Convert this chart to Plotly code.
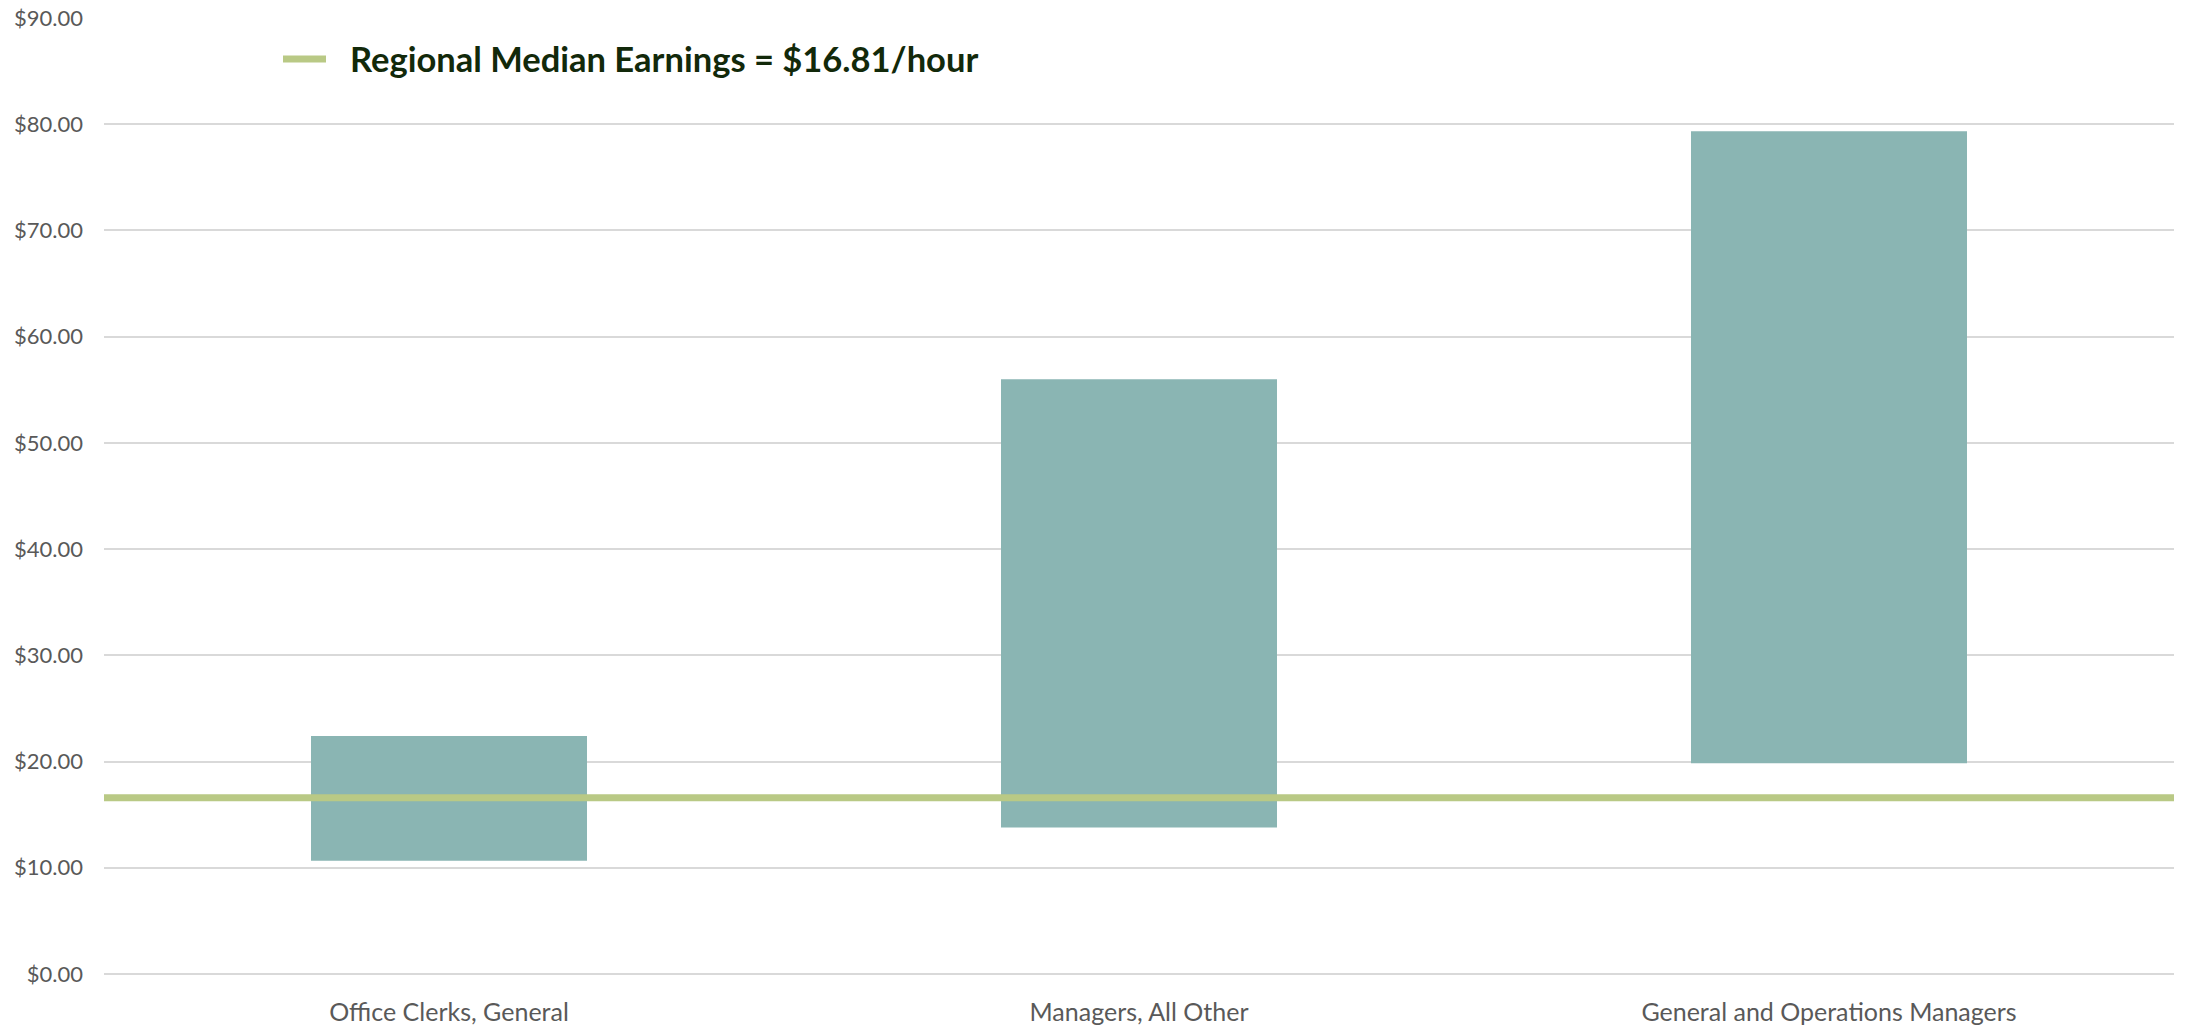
import plotly.graph_objects as go

categories = ["Office Clerks, General", "Managers, All Other", "General and Operations Managers"]
low_wage = [10.65, 13.8, 19.85]
high_wage = [22.4, 56.0, 79.35]
median_line_value = 16.6
median_label = "Regional Median Earnings = $16.81/hour"
tick_vals = [0, 10, 20, 30, 40, 50, 60, 70, 80, 90]
tick_text = ["$%.2f" % v for v in tick_vals]

W, H = 2185, 1026
L, R, T, B = 104, 11, 18, 52
PW = W - L - R
PH = H - T - B

fig = go.Figure()
fig.add_trace(go.Bar(
    x=categories,
    y=[h - l for h, l in zip(high_wage, low_wage)],
    base=low_wage,
    marker=dict(color="#8ab5b3", line=dict(width=0)),
    showlegend=False,
    hoverinfo="skip",
))
fig.add_trace(go.Scatter(
    x=[0, 1], y=[median_line_value, median_line_value],
    xaxis="x2", mode="lines",
    line=dict(color="#b9c985", width=7),
    name=median_label,
    showlegend=False,
))

# legend key drawn manually (symbol + label)
leg_y = 1 - (59 - T) / PH
fig.add_shape(type="line", xref="paper", yref="paper",
              x0=(283 - L) / PW, x1=(326 - L) / PW, y0=leg_y, y1=leg_y,
              line=dict(color="#b9c985", width=7))
fig.add_annotation(xref="paper", yref="paper", x=(348 - L) / PW, y=leg_y,
                   xanchor="left", yanchor="middle", showarrow=False,
                   text="<b>" + median_label + "</b>",
                   font=dict(size=34.5, color="#12290a", family="Lato"))

fig.update_layout(
    width=W, height=H,
    margin=dict(l=L, r=R, t=T, b=B, autoexpand=False),
    plot_bgcolor="white", paper_bgcolor="white",
    bargap=0.6,
    font=dict(family="Lato", color="#595959"),
    xaxis=dict(
        type="category", showgrid=False, showline=False, ticks="",
        tickfont=dict(size=25, color="#595959", family="Lato"),
        range=[-0.5, 2.5], automargin=False, ticklabelstandoff=21,
    ),
    xaxis2=dict(overlaying="x", range=[0, 1], visible=False, fixedrange=True),
    yaxis=dict(
        range=[0, 90], tickvals=tick_vals, ticktext=tick_text,
        showgrid=True, gridcolor="#d9d9d9", gridwidth=2,
        zeroline=True, zerolinecolor="#d9d9d9", zerolinewidth=2,
        showline=False, ticks="", ticklabelstandoff=20, automargin=False,
        tickfont=dict(size=22, color="#595959", family="Lato"),
    ),
)

fig.write_html("out.html")
